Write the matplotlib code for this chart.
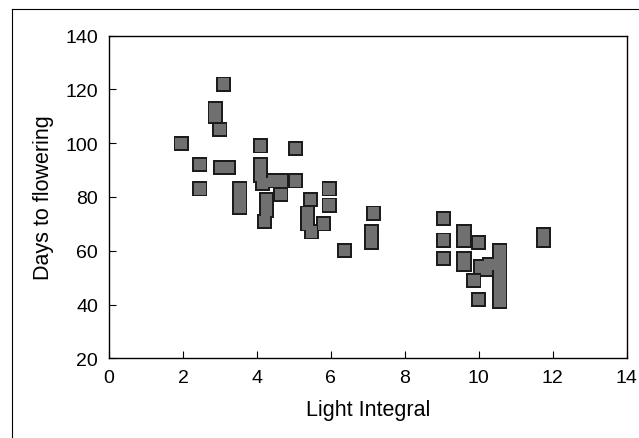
import matplotlib
matplotlib.use("Agg")
import matplotlib.pyplot as plt
from matplotlib.lines import Line2D

plt.rcParams['font.family'] = ['Liberation Sans', 'DejaVu Sans']

light = [1.95, 2.46, 2.46, 3.1, 2.87, 2.87, 3.0, 3.02, 3.23,
         3.54, 3.54, 3.54,
         4.1, 4.1, 4.1, 4.15, 4.45, 4.65, 4.65, 4.25, 4.25, 4.2,
         5.05, 5.05,
         5.45, 5.36, 5.36, 5.47, 5.8, 5.95, 5.95, 6.36,
         7.15, 7.1, 7.1,
         9.05, 9.05, 9.05, 9.6, 9.6, 9.6, 9.6, 10.0, 9.87, 10.04, 10.2, 10.3,
         10.57, 10.57, 10.57, 10.57, 10.57, 10.57, 10.0,
         11.75, 11.75]
days = [100, 92, 83, 122, 113, 110, 105, 91, 91,
        83, 79.5, 76,
        99, 92, 88, 85, 86, 86, 81, 79, 75, 71,
        98, 86,
        79, 74, 70, 67, 70, 83, 77, 60,
        74, 67, 63,
        72, 64, 57, 67, 64, 57, 55, 63, 49, 54, 53, 55,
        60, 56, 52, 48, 44, 41, 42,
        66, 64]

x_ticks = [0, 2, 4, 6, 8, 10, 12, 14]
y_ticks = [20, 40, 60, 80, 100, 120, 140]

fig = plt.figure(figsize=(6.39, 4.39), dpi=100)
ax = fig.add_axes([109/639, 1-359.3/439, (626.7-109)/639, (359.3-36.7)/439])

# dark outline layer, then gray fill layer -> overlapping squares merge into blocks
ax.scatter(light, days, marker='s', s=117, facecolor='#1c1c1c',
           edgecolor='none', zorder=3)
ax.scatter(light, days, marker='s', s=66, facecolor='#707070',
           edgecolor='none', zorder=4)

ax.set_xlim(0, 14)
ax.set_ylim(20, 140)
ax.set_xticks(x_ticks)
ax.set_yticks(y_ticks)
ax.tick_params(direction='in', length=5, width=0.8, labelsize=14, pad=8)
for s in ax.spines.values():
    s.set_linewidth(1.0)
ax.set_xlabel('Light Integral', fontsize=15.5, labelpad=9)
ax.set_ylabel('Days to flowering', fontsize=15.5, labelpad=8)

# outer frame (left and top edges visible)
fig.add_artist(Line2D([12/639, 12/639], [0, 1-10/439], transform=fig.transFigure,
                      color='black', lw=0.8))
fig.add_artist(Line2D([12/639, 1], [1-10/439, 1-10/439], transform=fig.transFigure,
                      color='black', lw=0.8))

fig.savefig('out.png', dpi=100)
